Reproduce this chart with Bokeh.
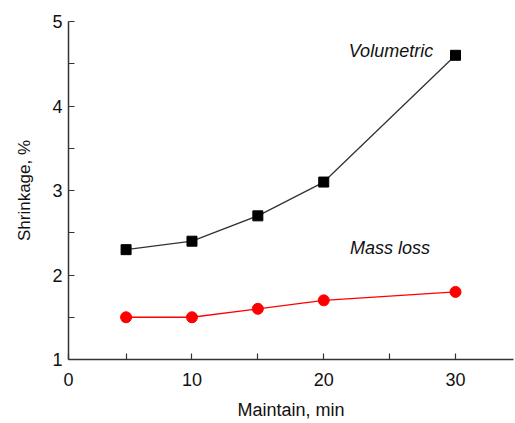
from bokeh.plotting import figure
from bokeh.models import Range1d, FixedTicker, Label
from bokeh.embed import file_html
from bokeh.resources import INLINE

# data
maintain_min = [5, 10, 15, 20, 30]
volumetric = [2.3, 2.4, 2.7, 3.1, 4.6]
mass_loss = [1.5, 1.5, 1.6, 1.7, 1.8]

x_start, x_end = 0.63, 34.4
y_start, y_end = 1, 5
x_ticks = [x_start, 10, 20, 30]
x_tick_labels = ["0", "10", "20", "30"]
x_minor = [5, 15, 25]
y_ticks = [1, 2, 3, 4, 5]
y_minor = [1.5, 2.5, 3.5, 4.5]

FONT = "Liberation Sans"

p = figure(width=515, height=423, output_backend="svg", toolbar_location=None,
           x_range=Range1d(x_start, x_end), y_range=Range1d(y_start, y_end),
           min_border_left=68, min_border_right=2, min_border_top=21, min_border_bottom=64)
p.outline_line_color = None
p.xgrid.visible = False
p.ygrid.visible = False

p.line(maintain_min, volumetric, line_color="#333333", line_width=1.3)
p.scatter(maintain_min, volumetric, marker="square", size=10, fill_color="black", line_color="black")
p.line(maintain_min, mass_loss, line_color="#ff0000", line_width=1.3)
p.scatter(maintain_min, mass_loss, marker="circle", size=11, fill_color="#ff0000", line_color="#ff0000")

p.xaxis.ticker = FixedTicker(ticks=x_ticks, minor_ticks=x_minor)
p.xaxis.major_label_overrides = {x_start: x_tick_labels[0], 10: x_tick_labels[1], 20: x_tick_labels[2], 30: x_tick_labels[3]}
p.yaxis.ticker = FixedTicker(ticks=y_ticks, minor_ticks=y_minor)

for ax in (p.xaxis[0], p.yaxis[0]):
    ax.axis_line_color = "#333333"
    ax.axis_line_width = 1.5
    ax.major_tick_line_color = "#333333"
    ax.minor_tick_line_color = "#333333"
    ax.major_tick_line_width = 1.2
    ax.minor_tick_line_width = 1.2
    ax.major_tick_in = 6
    ax.major_tick_out = 0
    ax.minor_tick_in = 6
    ax.minor_tick_out = 0
    ax.major_label_text_font = FONT
    ax.major_label_text_font_size = "18px"
    ax.major_label_text_color = "#111111"
    ax.axis_label_text_font = FONT
    ax.axis_label_text_font_style = "normal"
    ax.axis_label_text_color = "#111111"

p.xaxis.axis_label = "Maintain, min"
p.yaxis.axis_label = "Shrinkage, %"
p.xaxis.axis_label_text_font_size = "18px"
p.yaxis.axis_label_text_font_size = "17px"
p.xaxis.major_label_standoff = 13
p.xaxis.axis_label_standoff = 11
p.yaxis.major_label_standoff = 6
p.yaxis.axis_label_standoff = 15

p.add_layout(Label(x=21.9, y=4.65, text="Volumetric", text_font=FONT, text_font_size="18px",
                   text_font_style="italic", text_baseline="middle", text_color="#111111"))
p.add_layout(Label(x=22.0, y=2.32, text="Mass loss", text_font=FONT, text_font_size="18px",
                   text_font_style="italic", text_baseline="middle", text_color="#111111"))

open("out.html", "w").write(file_html(p, INLINE))
